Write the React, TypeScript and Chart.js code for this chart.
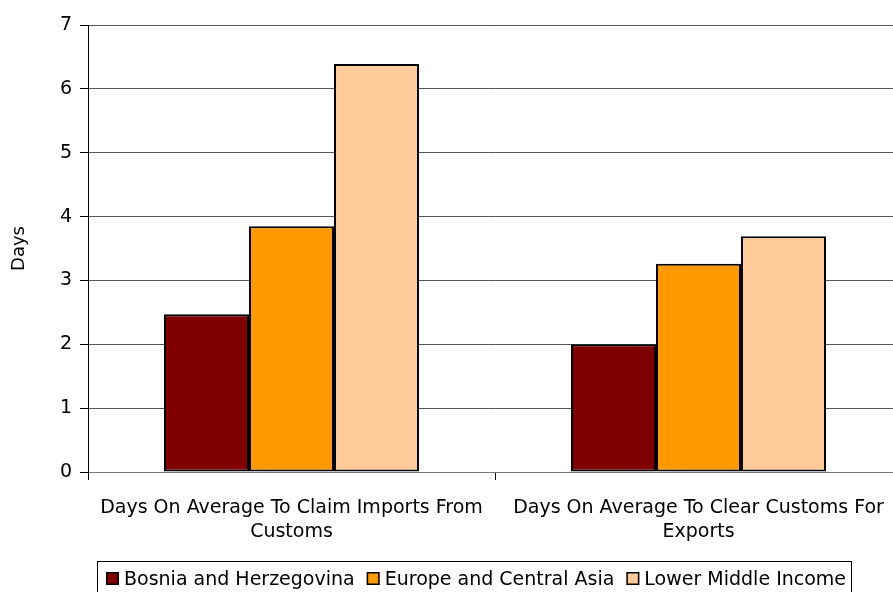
import React, { useEffect, useRef } from "react";
import { Chart, registerables } from "chart.js";

Chart.register(...registerables);

const categories: string[][] = [
  ["Days On Average To Claim Imports From", "Customs"],
  ["Days On Average To Clear Customs For", "Exports"],
];
const seriesNames = ["Bosnia and Herzegovina", "Europe and Central Asia", "Lower Middle Income"];
const bosnia = [2.47, 2.0];
const europe = [3.85, 3.26];
const lowerMiddle = [6.39, 3.69];
const seriesColors = ["#800000", "#FF9900", "#FFCC99"];
const yTitle = "Days";

const FONT = "'DejaVu Sans', Verdana, sans-serif";

const boxedLegend = {
  id: "boxedLegend",
  afterDraw(chart: any) {
    const ctx = chart.ctx as CanvasRenderingContext2D;
    ctx.save();
    ctx.font = `19px ${FONT}`;
    ctx.textBaseline = "alphabetic";
    ctx.textAlign = "left";
    // border
    ctx.strokeStyle = "#000";
    ctx.lineWidth = 1;
    ctx.strokeRect(97.5, 561.5, 754, 60);
    let x = 106;
    chart.data.datasets.forEach((ds: any) => {
      ctx.fillStyle = ds.backgroundColor;
      ctx.fillRect(x, 572, 13, 13);
      ctx.strokeStyle = "#000";
      ctx.lineWidth = 1.5;
      ctx.strokeRect(x + 0.75, 572.75, 11.5, 11.5);
      ctx.fillStyle = "#000";
      ctx.fillText(ds.label, x + 18, 585);
      x = x + 18 + ctx.measureText(ds.label).width + 12;
    });
    ctx.restore();
  },
};

export default function App() {
  const ref = useRef<HTMLCanvasElement | null>(null);
  useEffect(() => {
    if (!ref.current) return;
    const values = [bosnia, europe, lowerMiddle];
    const chart = new Chart(ref.current, {
      type: "bar",
      data: {
        labels: categories,
        datasets: seriesNames.map((name, i) => ({
          label: name,
          data: values[i],
          backgroundColor: seriesColors[i],
          borderColor: "#000",
          borderWidth: 2,
          borderSkipped: false,
          categoryPercentage: 0.6265,
          barPercentage: 1,
        })),
      },
      plugins: [boxedLegend],
      options: {
        animation: false,
        responsive: false,
        maintainAspectRatio: false,
        events: [],
        layout: { padding: { top: 25, right: 0, bottom: 0, left: 0 } },
        plugins: {
          legend: { display: false },
          tooltip: { enabled: false },
          title: { display: false },
        },
        scales: {
          x: {
            grid: {
              display: true,
              drawOnChartArea: false,
              offset: true,
              tickLength: 8,
              color: "#000",
              tickColor: "#000",
            },
            border: { display: true, color: "#777", width: 1 },
            ticks: {
              color: "#000",
              padding: 16,
              maxRotation: 0,
              autoSkip: false,
              font: { family: FONT, size: 19, lineHeight: 24 / 19 },
            },
            afterFit(scale: any) {
              scale.height = 120;
            },
          },
          y: {
            min: 0,
            max: 7,
            ticks: {
              stepSize: 1,
              color: "#000",
              padding: 8,
              font: { family: FONT, size: 19 },
            },
            grid: {
              color: "#555",
              tickColor: "#000",
              tickLength: 8,
              lineWidth: 1,
            },
            border: { display: true, color: "#000", width: 1 },
            title: {
              display: true,
              text: yTitle,
              color: "#000",
              font: { family: FONT, size: 18 },
              padding: { top: 9, bottom: 0 },
            },
            afterFit(scale: any) {
              scale.width = 88;
            },
          },
        },
      },
    });
    return () => chart.destroy();
  }, []);
  return (
    <div
      style={{
        position: "fixed",
        left: 0,
        top: 0,
        width: 893,
        height: 592,
        overflow: "hidden",
        background: "#fff",
      }}
    >
      <canvas ref={ref} width={902} height={592} style={{ display: "block" }} />
    </div>
  );
}
